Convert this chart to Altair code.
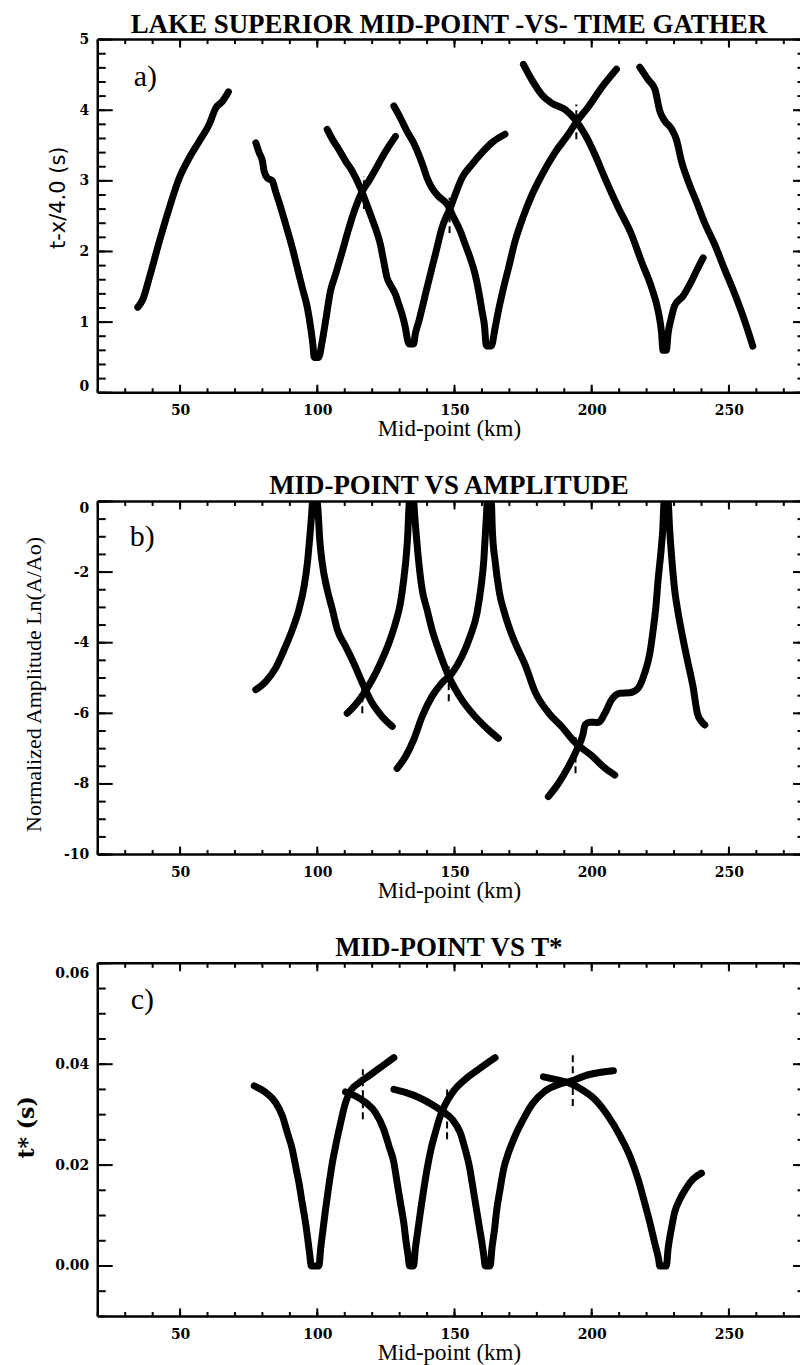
import altair as alt
import pandas as pd

# ---------------- a) reduced travel time t - x/4.0 (s) ----------------
A_RISE_KM = [34.6, 36.4, 38.8, 42.5, 46.1, 49.7, 53.4, 57.0, 60.6, 63.0, 65.5, 67.6]
A_RISE_T = [1.21, 1.32, 1.63, 2.15, 2.62, 3.04, 3.33, 3.56, 3.80, 4.03, 4.13, 4.26]

A_V1_KM = [77.6, 78.8, 80.0, 80.6, 81.8, 83.6, 84.8, 86.7, 88.5, 90.9, 92.7, 94.5, 96.4, 97.6, 98.4,
           98.9, 100.5, 101.8, 103.0, 104.8, 106.7, 109.1, 111.5, 113.9, 116.4, 118.8, 121.2, 123.6,
           126.1, 128.5]
A_V1_T = [3.54, 3.40, 3.28, 3.14, 3.04, 3.00, 2.85, 2.62, 2.38, 2.05, 1.77, 1.49, 1.20, 0.92, 0.68,
          0.50, 0.50, 0.73, 1.01, 1.44, 1.68, 2.00, 2.33, 2.62, 2.85, 3.00, 3.16, 3.33, 3.49, 3.63]

A_V2_KM = [103.6, 105.5, 107.9, 110.3, 112.7, 115.7, 117.6, 119.4, 121.2, 123.0, 124.2, 125.4, 126.6,
           128.5, 129.7, 130.9, 132.1, 133.0, 133.5, 135.1, 135.7, 137.0, 138.2, 140.0, 141.8, 143.6,
           145.4, 147.3, 148.5, 150.3, 152.7, 156.3, 160.0, 163.6, 168.4]
A_V2_T = [3.73, 3.59, 3.44, 3.28, 3.14, 2.90, 2.71, 2.52, 2.33, 2.10, 1.86, 1.63, 1.53, 1.39, 1.25,
          1.11, 0.92, 0.73, 0.69, 0.69, 0.83, 1.01, 1.20, 1.49, 1.77, 2.05, 2.33, 2.52, 2.62, 2.81,
          3.04, 3.23, 3.40, 3.54, 3.66]

A_V3_KM = [127.9, 130.3, 132.7, 135.1, 137.0, 138.8, 140.0, 141.8, 144.2, 147.3, 149.7, 152.1, 153.9,
           155.7, 157.5, 158.8, 160.0, 161.0, 161.5, 162.0, 163.4, 164.8, 166.0, 167.9, 169.7, 172.1,
           175.1, 178.2, 181.8, 186.6, 191.5, 194.0, 198.8, 203.6, 209.0]
A_V3_T = [4.06, 3.89, 3.70, 3.54, 3.37, 3.18, 3.04, 2.90, 2.78, 2.67, 2.48, 2.29, 2.10, 1.91, 1.68,
          1.44, 1.16, 0.92, 0.68, 0.66, 0.66, 0.92, 1.16, 1.49, 1.77, 2.15, 2.50, 2.80, 3.08, 3.40,
          3.66, 3.81, 4.05, 4.32, 4.58]

A_V4_KM = [175.1, 178.2, 181.8, 185.4, 190.3, 193.9, 197.5, 201.2, 204.8, 209.7, 214.5, 218.1, 221.8,
           224.2, 225.4, 226.0, 227.2, 227.8, 229.0, 230.2, 233.3, 235.7, 238.1, 240.6]
A_V4_T = [4.65, 4.43, 4.22, 4.10, 4.01, 3.87, 3.66, 3.37, 3.04, 2.62, 2.24, 1.86, 1.49, 1.16, 0.87,
          0.60, 0.60, 0.83, 1.06, 1.23, 1.37, 1.53, 1.72, 1.91]

A_TAIL_KM = [217.5, 220.6, 223.0, 224.8, 226.6, 229.0, 230.9, 232.7, 235.1, 238.1, 241.1, 244.8, 248.4,
             252.1, 255.7, 258.7]
A_TAIL_T = [4.61, 4.43, 4.30, 3.99, 3.85, 3.74, 3.58, 3.28, 3.00, 2.71, 2.41, 2.10, 1.75, 1.40, 1.02,
            0.66]

A_MARK_KM = [117.0, 148.2, 194.4]
A_MARK_LO = [2.60, 2.26, 3.59]
A_MARK_HI = [3.07, 2.76, 4.08]

# ---------------- b) normalized amplitude Ln(A/Ao) ----------------
B_P1_KM = [77.6, 81.2, 84.8, 87.9, 90.9, 93.3, 95.2, 96.4, 97.3, 97.9, 98.3, 99.9, 100.4, 100.8, 101.8,
           103.6, 105.5, 107.3, 110.3, 113.3, 117.0, 120.0, 123.6, 127.3]
B_P1_A = [-5.33, -5.10, -4.72, -4.20, -3.63, -3.06, -2.40, -1.74, -0.98, -0.41, 0.0, 0.0, -0.41, -0.98,
          -1.74, -2.49, -3.06, -3.63, -4.10, -4.58, -5.24, -5.71, -6.09, -6.37]

B_P2_KM = [110.9, 113.9, 117.0, 120.0, 123.0, 126.1, 128.5, 130.3, 131.5, 132.4, 133.0, 133.3, 133.6,
           135.1, 135.5, 136.1, 137.0, 138.2, 140.0, 141.8, 144.2, 147.9, 152.7, 157.5, 162.4, 166.0]
B_P2_A = [-6.00, -5.76, -5.43, -5.05, -4.58, -4.01, -3.44, -2.87, -2.21, -1.55, -0.89, -0.32, 0.0, 0.0,
          -0.41, -0.98, -1.74, -2.49, -3.06, -3.63, -4.20, -4.95, -5.62, -6.09, -6.47, -6.71]

B_P3_KM = [129.1, 132.1, 135.1, 138.2, 141.8, 145.4, 149.1, 152.7, 155.7, 158.2, 159.7, 160.7, 161.2,
           161.7, 161.9, 163.4, 163.8, 164.8, 166.4, 168.2, 170.3, 172.6, 175.7, 179.4, 184.2, 189.1,
           193.9, 200.0, 204.8, 208.4]
B_P3_A = [-7.56, -7.23, -6.75, -6.09, -5.52, -5.14, -4.86, -4.39, -3.82, -3.16, -2.40, -1.64, -0.98,
          -0.32, 0.0, 0.0, -0.84, -1.69, -2.60, -3.15, -3.65, -4.10, -4.62, -5.40, -5.98, -6.38, -6.82,
          -7.20, -7.55, -7.75]

B_P4_KM = [184.2, 187.9, 191.5, 194.5, 196.8, 197.6, 199.4, 202.4, 204.8, 207.2, 210.3, 213.9, 216.9,
           219.3, 221.2, 222.4, 223.4, 224.2, 225.2, 225.9, 226.4, 227.8, 228.4, 229.3, 230.2, 231.5,
           233.3, 235.1, 236.9, 238.5, 240.0, 241.2]
B_P4_A = [-8.36, -7.98, -7.51, -7.04, -6.60, -6.32, -6.25, -6.26, -6.00, -5.62, -5.43, -5.42, -5.29,
          -4.86, -4.29, -3.63, -2.97, -2.21, -1.45, -0.79, 0.0, 0.0, -0.79, -1.74, -2.49, -3.16, -3.91,
          -4.58, -5.24, -6.00, -6.23, -6.33]

B_MARK_KM = [116.4, 147.9, 194.1]
B_MARK_LO = [-6.00, -5.66, -7.70]
B_MARK_HI = [-5.00, -4.67, -6.67]

# ---------------- c) t* (s) ----------------
C_V1_KM = [77.0, 81.2, 84.8, 87.3, 89.1, 90.9, 92.1, 93.3, 94.5, 95.7, 96.7, 97.3, 97.8, 100.6, 101.2,
           102.1, 103.0, 104.2, 105.5, 106.9, 108.5, 110.3, 112.1, 115.2, 118.8, 123.6, 127.9]
C_V1_T = [0.0357, 0.0344, 0.0324, 0.0297, 0.0264, 0.0231, 0.0198, 0.0165, 0.0125, 0.0086, 0.0046,
          0.0020, 0.0, 0.0, 0.0033, 0.0073, 0.0112, 0.0159, 0.0205, 0.0244, 0.0284, 0.0324, 0.0347,
          0.0363, 0.0377, 0.0396, 0.0413]

C_V2_KM = [110.3, 113.9, 117.6, 121.2, 124.2, 126.1, 127.9, 129.1, 130.3, 131.5, 132.4, 133.1, 133.6,
           135.1, 135.7, 136.7, 137.7, 138.8, 140.0, 141.4, 143.0, 144.8, 146.6, 149.7, 153.9, 158.8,
           164.8]
C_V2_T = [0.0345, 0.0337, 0.0324, 0.0304, 0.0271, 0.0238, 0.0205, 0.0165, 0.0125, 0.0086, 0.0046,
          0.0020, 0.0, 0.0, 0.0033, 0.0073, 0.0112, 0.0152, 0.0192, 0.0231, 0.0264, 0.0297, 0.0320,
          0.0347, 0.0370, 0.0390, 0.0413]

C_V3_KM = [127.9, 132.1, 137.0, 141.8, 145.4, 149.1, 152.1, 153.9, 155.4, 156.6, 157.8, 159.0, 160.0,
           160.7, 161.2, 163.0, 163.6, 164.6, 165.4, 166.6, 167.9, 169.7, 172.1, 175.1, 178.2, 183.0,
           187.9, 192.7, 197.5, 202.4, 207.9]
C_V3_T = [0.0350, 0.0344, 0.0334, 0.0320, 0.0307, 0.0291, 0.0264, 0.0231, 0.0198, 0.0159, 0.0119,
          0.0079, 0.0046, 0.0020, 0.0, 0.0, 0.0033, 0.0073, 0.0112, 0.0152, 0.0192, 0.0225, 0.0258,
          0.0291, 0.0320, 0.0347, 0.0360, 0.0367, 0.0377, 0.0383, 0.0387]

C_V4_KM = [182.4, 186.6, 191.5, 196.3, 201.2, 206.0, 210.3, 213.9, 216.9, 219.3, 221.5, 223.2, 224.4,
           224.8, 227.2, 227.8, 229.0, 230.2, 232.1, 234.5, 236.9, 240.0]
C_V4_T = [0.0375, 0.0370, 0.0363, 0.0350, 0.0330, 0.0297, 0.0258, 0.0218, 0.0172, 0.0125, 0.0079,
          0.0040, 0.0013, 0.0, 0.0, 0.0033, 0.0073, 0.0106, 0.0132, 0.0155, 0.0172, 0.0184]

C_MARK_KM = [116.6, 147.3, 193.1]
C_MARK_LO = [0.0291, 0.0251, 0.0317]
C_MARK_HI = [0.0390, 0.0350, 0.0420]

# ---------------- axes ----------------
X_DOMAIN = [20, 275.9]
X_MAJOR = [50, 100, 150, 200, 250]
X_MINOR = list(range(20, 276, 10))

A_DOMAIN = [0, 5]
A_MAJOR = [0, 1, 2, 3, 4, 5]
A_MINOR = [round(0.2 * i, 1) for i in range(26)]

B_DOMAIN = [-10, 0]
B_MAJOR = [-10, -8, -6, -4, -2, 0]
B_MINOR = [-10 + 0.5 * i for i in range(21)]

C_DOMAIN = [-0.01, 0.06]
C_MAJOR = [0.0, 0.02, 0.04, 0.06]
C_MINOR = [round(-0.01 + 0.005 * i, 3) for i in range(15)]

PLOT_W = 704
PLOT_H = 354
INK = "black"
LABEL_FONT = "DejaVu Serif"
SERIF = "Liberation Serif"


def series_frame(groups):
    rows = []
    for name, xs, ys in groups:
        for i, (x, y) in enumerate(zip(xs, ys)):
            rows.append({"series": name, "idx": i, "km": x, "val": y})
    return pd.DataFrame(rows)


def build_panel(groups, marks, title, title_offset, tag, tag_x, tag_y,
                y_domain, y_major, y_minor, y_axis):
    xs = alt.Scale(domain=X_DOMAIN, nice=False, zero=False)
    ys = alt.Scale(domain=y_domain, nice=False, zero=False)

    x_axis = alt.Axis(
        values=X_MAJOR, title="Mid-point (km)", ticks=False, tickSize=0, domain=False, grid=False,
        labelFont=LABEL_FONT, labelFontWeight="bold", labelFontSize=14, labelPadding=11,
        labelColor=INK, titleFont=SERIF, titleFontWeight="normal", titleFontSize=23,
        titleColor=INK, titleY=43, titleBaseline="alphabetic",
    )

    # helper layers share the scales but leave axis settings to the curve layer
    curves = alt.Chart(series_frame(groups)).mark_line(
        color=INK, strokeWidth=7, strokeCap="round", strokeJoin="round",
        interpolate="monotone", clip=True,
    ).encode(
        x=alt.X("km:Q", scale=xs, axis=x_axis),
        y=alt.Y("val:Q", scale=ys, axis=y_axis),
        detail="series:N",
        order="idx:Q",
    )

    mk = pd.DataFrame({"km": marks[0], "val": marks[1], "hi": marks[2]})
    markers = alt.Chart(mk).mark_rule(color=INK, strokeWidth=2, strokeDash=[7, 4]).encode(
        x=alt.X("km:Q", scale=xs),
        y=alt.Y("val:Q", scale=ys),
        y2="hi:Q",
    )

    def xticks(vals, length, top):
        d = pd.DataFrame({"km": vals})
        if top:
            y, y2 = alt.value(0), alt.value(length)
        else:
            y, y2 = alt.value(PLOT_H), alt.value(PLOT_H - length)
        return alt.Chart(d).mark_rule(color=INK, strokeWidth=2).encode(
            x=alt.X("km:Q", scale=xs), y=y, y2=y2)

    def yticks(vals, length, right):
        d = pd.DataFrame({"val": vals})
        if right:
            x, x2 = alt.value(PLOT_W - length), alt.value(PLOT_W)
        else:
            x, x2 = alt.value(0), alt.value(length)
        return alt.Chart(d).mark_rule(color=INK, strokeWidth=2).encode(
            y=alt.Y("val:Q", scale=ys), x=x, x2=x2)

    one = pd.DataFrame({"k": [0]})
    frame_left = alt.Chart(one).mark_rule(color=INK, strokeWidth=2.5).encode(
        x=alt.value(0), y=alt.value(0), y2=alt.value(PLOT_H))
    frame_top = alt.Chart(one).mark_rule(color=INK, strokeWidth=2.5).encode(
        x=alt.value(0), x2=alt.value(PLOT_W), y=alt.value(0))
    frame_bottom = alt.Chart(one).mark_rule(color=INK, strokeWidth=2.5).encode(
        x=alt.value(0), x2=alt.value(PLOT_W), y=alt.value(PLOT_H))

    label = alt.Chart(pd.DataFrame({"tag": [tag]})).mark_text(
        align="left", baseline="alphabetic", font=SERIF, fontSize=30, color=INK,
    ).encode(text="tag:N", x=alt.value(tag_x), y=alt.value(tag_y))

    layers = [
        markers, curves,
        xticks(X_MINOR, 4.5, False), xticks(X_MAJOR, 8, False),
        xticks(X_MINOR, 4.5, True), xticks(X_MAJOR, 8, True),
        yticks(y_minor, 8, False), yticks(y_major, 15, False),
        yticks(y_minor, 2.5, True), yticks(y_major, 7, True),
        frame_left, frame_top, frame_bottom, label,
    ]
    return alt.layer(*layers).properties(
        width=PLOT_W, height=PLOT_H,
        title=alt.TitleParams(
            text=title, font=SERIF, fontSize=27, fontWeight="bold", color=INK,
            anchor="middle", offset=title_offset,
        ),
    )


def y_axis(values, title, title_font, title_size, title_weight, title_x, title_y, expr, shift_test, shift):
    return alt.Axis(
        values=values, title=title, ticks=False, tickSize=0, domain=False, grid=False,
        labelFont=LABEL_FONT, labelFontWeight="bold", labelFontSize=14, labelPadding=9,
        labelColor=INK, labelExpr=expr,
        labelOffset={"condition": {"test": shift_test, "value": shift}, "value": 0},
        titleFont=title_font, titleFontSize=title_size, titleFontWeight=title_weight,
        titleColor=INK, titleX=title_x, titleY=title_y, titleAngle=-90,
        titleAlign="center", titleBaseline="middle",
    )


panel_a = build_panel(
    [("rise", A_RISE_KM, A_RISE_T), ("v1", A_V1_KM, A_V1_T), ("v2", A_V2_KM, A_V2_T),
     ("v3", A_V3_KM, A_V3_T), ("v4", A_V4_KM, A_V4_T), ("tail", A_TAIL_KM, A_TAIL_T)],
    (A_MARK_KM, A_MARK_LO, A_MARK_HI),
    "LAKE SUPERIOR MID-POINT -VS- TIME GATHER", -6, "a)", 36, 47,
    A_DOMAIN, A_MAJOR, A_MINOR,
    y_axis(A_MAJOR, "t-x/4.0 (s)", "DejaVu Sans", 21, "normal", -39, 158,
           "'' + datum.value", "datum.value == 0", -6),
)

panel_b = build_panel(
    [("p1", B_P1_KM, B_P1_A), ("p2", B_P2_KM, B_P2_A), ("p3", B_P3_KM, B_P3_A),
     ("p4", B_P4_KM, B_P4_A)],
    (B_MARK_KM, B_MARK_LO, B_MARK_HI),
    "MID-POINT VS AMPLITUDE", 0, "b)", 32, 45,
    B_DOMAIN, B_MAJOR, B_MINOR,
    y_axis(B_MAJOR, "Normalized Amplitude Ln(A/Ao)", SERIF, 22, "normal", -64, 183,
           "'' + datum.value", "datum.value == 0", 7),
)

panel_c = build_panel(
    [("v1", C_V1_KM, C_V1_T), ("v2", C_V2_KM, C_V2_T), ("v3", C_V3_KM, C_V3_T),
     ("v4", C_V4_KM, C_V4_T)],
    (C_MARK_KM, C_MARK_LO, C_MARK_HI),
    "MID-POINT VS T*", 0, "c)", 33, 46,
    C_DOMAIN, C_MAJOR, C_MINOR,
    y_axis(C_MAJOR, "t* (s)", LABEL_FONT, 22, "bold", -71, 164,
           "format(datum.value, '.2f')", "datum.value > 0.055", 10),
)

chart = alt.vconcat(panel_a, panel_b, panel_c, spacing=31).properties(
    padding={"left": 16, "top": 9, "right": 0, "bottom": 0},
    background="white",
).configure_view(stroke=None)

chart.save("out.html", embed_options={"renderer": "svg", "actions": False})
